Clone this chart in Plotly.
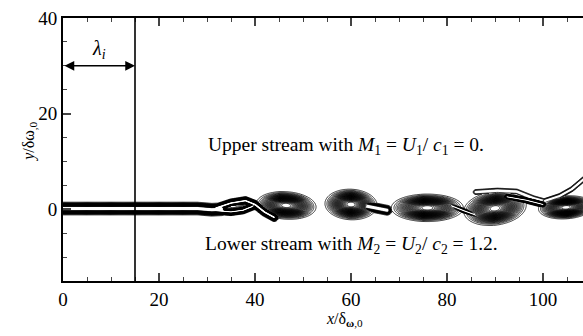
import numpy as np
import plotly.graph_objects as go

# ---- data ----
# Rolled-up vortices (centre, semi-axes, tilt in degrees, strength)
vortex_x = [35.5, 46.5, 60.0, 75.9, 90.0, 104.8]
vortex_y = [0.6, 0.8, 1.0, 0.3, 0.2, 0.4]
vortex_ax = [2.4, 3.9, 3.4, 4.7, 4.1, 3.6]
vortex_ay = [0.9, 1.8, 2.0, 1.8, 2.2, 1.5]
vortex_tilt = [8, -4, -3, 0, 8, 4]
vortex_amp = [0.45, 1.0, 1.0, 1.0, 1.0, 1.0]

# Shear-layer strands and braids (poly-lines, half width, strength)
layer_x = [0, 28, 31, 33]
layer_y = [0.15, 0.15, -0.1, 0.0]
upper_strand_x = [32, 35, 38, 40, 42, 44]
upper_strand_y = [0.3, 1.3, 1.8, 1.0, -0.6, -1.7]
lower_strand_x = [32, 35, 37.5, 39.5]
lower_strand_y = [-0.3, -0.55, -0.2, 0.6]
tail2_x = [62.0, 65.0, 67.5]
tail2_y = [0.9, 0.3, -0.2]
braid34_x = [80.5, 83.5, 86.5]
braid34_y = [0.9, -0.3, -1.4]
upper_fil_x = [86.0, 90.5, 94.5, 98.0, 100.5]
upper_fil_y = [3.6, 3.9, 3.7, 2.3, 1.6]
braid45_x = [92.5, 96.5, 100.0]
braid45_y = [2.6, 1.9, 1.0]
upright_fil_x = [100.5, 103.5, 106.0, 108.6]
upright_fil_y = [1.8, 2.8, 4.2, 6.4]

filaments = [
    (layer_x, layer_y, 0.78, 1.0),
    (upper_strand_x, upper_strand_y, 0.5, 1.0),
    (lower_strand_x, lower_strand_y, 0.45, 1.0),
    (tail2_x, tail2_y, 0.7, 0.45),
    (braid34_x, braid34_y, 0.35, 0.3),
    (upper_fil_x, upper_fil_y, 0.45, 0.13),
    (braid45_x, braid45_y, 0.4, 0.6),
    (upright_fil_x, upright_fil_y, 0.4, 0.16),
]

x_ticks = [0, 20, 40, 60, 80, 100]
y_ticks = [0, 20, 40]
lambda_i = 15.0

# ---- vorticity-like table built from the elements above ----
gx = np.arange(0, 110.01, 0.2)
gy = np.arange(-8, 10.01, 0.08)
X, Y = np.meshgrid(gx, gy)
Z = np.zeros_like(X)

for xc, yc, a, b, t, amp in zip(vortex_x, vortex_y, vortex_ax, vortex_ay, vortex_tilt, vortex_amp):
    th = np.deg2rad(t)
    dx, dy = X - xc, Y - yc
    u = dx * np.cos(th) + dy * np.sin(th)
    v = -dx * np.sin(th) + dy * np.cos(th)
    r2 = (u / a) ** 2 + (v / b) ** 2
    Z = np.maximum(Z, amp * np.exp(-r2 ** 1.25))


def poly_dist(px, py):
    d = np.full_like(X, 1e9)
    for i in range(len(px) - 1):
        x0, y0, x1, y1 = px[i], py[i], px[i + 1], py[i + 1]
        vx, vy = x1 - x0, y1 - y0
        L2 = vx * vx + vy * vy
        s = np.clip(((X - x0) * vx + (Y - y0) * vy) / L2, 0, 1)
        d = np.minimum(d, np.hypot(X - (x0 + s * vx), Y - (y0 + s * vy)))
    return d


for px, py, w, amp in filaments:
    d = poly_dist(px, py)
    Z = np.maximum(Z, amp / (1 + (d / w) ** 6))

Z = np.round(Z, 3)

FONT = "Liberation Serif"

fig = go.Figure()
fig.add_trace(go.Contour(
    x=gx, y=gy, z=Z,
    contours=dict(start=0.04, end=0.97, size=0.03, coloring="lines"),
    colorscale=[[0, "black"], [1, "black"]],
    line=dict(width=0.8, smoothing=1),
    showscale=False, hoverinfo="skip",
))

fig.add_shape(type="line", x0=lambda_i, x1=lambda_i, y0=-15, y1=40,
              line=dict(color="black", width=1.6))

fig.add_annotation(x=lambda_i, y=30, ax=0, ay=30, axref="x", ayref="y",
                   xref="x", yref="y", text="", showarrow=True,
                   arrowside="end+start", arrowhead=2, arrowsize=1.3,
                   arrowwidth=1.5, arrowcolor="black")
fig.add_annotation(x=lambda_i / 2, y=33.5, text="<i>λ</i><sub><i>i</i></sub>",
                   showarrow=False, font=dict(family=FONT, size=20, color="black"))
fig.add_annotation(x=58.9, y=13.3,
                   text="Upper stream with <i>M</i><sub>1</sub> = <i>U</i><sub>1</sub>/ <i>c</i><sub>1</sub> = 0.",
                   showarrow=False, font=dict(family=FONT, size=19.5, color="black"))
fig.add_annotation(x=60.2, y=-7.4,
                   text="Lower stream with <i>M</i><sub>2</sub> = <i>U</i><sub>2</sub>/ <i>c</i><sub>2</sub> = 1.2.",
                   showarrow=False, font=dict(family=FONT, size=19.5, color="black"))
fig.add_annotation(xref="paper", yref="paper", x=-0.087, y=0.53, textangle=-90,
                   text="<i>y</i>/δω<sub>,0</sub>", showarrow=False,
                   font=dict(family=FONT, size=16, color="black"))
fig.add_annotation(xref="paper", yref="paper", x=0.542, y=-0.19,
                   text="<i>x</i>/δ<sub><b>ω</b>,0</sub>", showarrow=False,
                   font=dict(family=FONT, size=16, color="black"))

fig.update_layout(
    width=583, height=336,
    margin=dict(l=63, r=0, t=18, b=55),
    paper_bgcolor="white", plot_bgcolor="white",
    showlegend=False,
    font=dict(family=FONT, size=19, color="black"),
    xaxis=dict(range=[0, 108.33], tickvals=x_ticks, ticks="inside", ticklen=8,
               tickwidth=1.5, showline=True, linewidth=2, linecolor="black",
               mirror="ticks", showgrid=False, zeroline=False,
               minor=dict(dtick=5, ticks="inside", ticklen=4, tickwidth=1.2,
                          showgrid=False),
               tickfont=dict(family=FONT, size=19, color="black")),
    yaxis=dict(range=[-15, 40], tickvals=y_ticks, ticks="inside", ticklen=8,
               tickwidth=1.5, showline=True, linewidth=2, linecolor="black",
               mirror=False, showgrid=False, zeroline=False,
               minor=dict(dtick=5, ticks="inside", ticklen=4, tickwidth=1.2,
                          showgrid=False),
               tickfont=dict(family=FONT, size=19, color="black")),
)

fig.write_html("out.html")
